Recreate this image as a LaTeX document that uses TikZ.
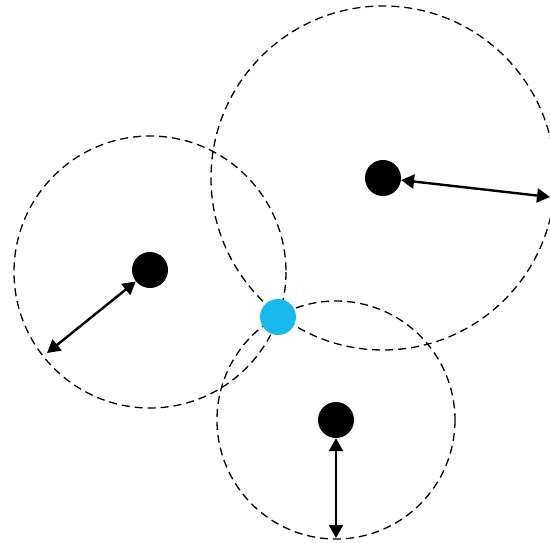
\documentclass[tikz,border=0pt]{standalone}
\usetikzlibrary{arrows.meta}
\definecolor{cyandot}{RGB}{25,185,235}
\begin{document}
\begin{tikzpicture}[x=1pt,y=-1pt,
  rangecircle/.style={draw=black,line width=1.3pt,dash pattern=on 8pt off 5pt},
  blackdot/.style={circle,fill=black,inner sep=0pt,minimum size=36pt},
  targetdot/.style={circle,fill=cyandot,inner sep=0pt,minimum size=36pt},
  distarrow/.style={line width=2.4pt,{Triangle[length=13pt,width=14pt]}-{Triangle[length=13pt,width=14pt]}}]
\useasboundingbox (0,0) rectangle (550,542);
\draw[rangecircle] (150,272) circle[radius=136];
\draw[rangecircle] (383,178) circle[radius=172];
\draw[rangecircle] (336,420) circle[radius=119];
\node[blackdot] (d1) at (150,270) {};
\node[blackdot] (d2) at (383,178) {};
\node[blackdot] (d3) at (336,420) {};
\node[targetdot] (t) at (278,317) {};
\coordinate (e1) at (47,353);
\coordinate (e2) at (550,197);
\coordinate (e3) at (336,538);
\draw[distarrow] (d1) -- (e1);
\draw[distarrow] (d2) -- (e2);
\draw[distarrow] (d3) -- (e3);
\end{tikzpicture}
\end{document}
